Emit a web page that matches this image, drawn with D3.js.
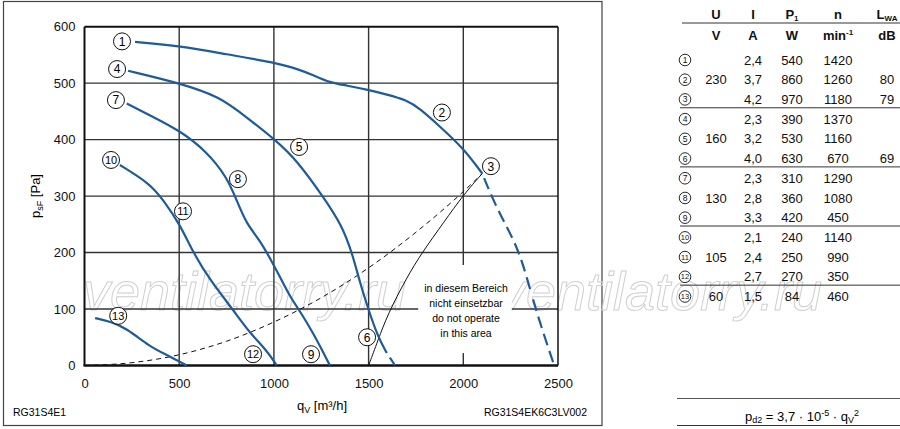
<!DOCTYPE html>
<html>
<head>
<meta charset="utf-8">
<script src="https://cdn.jsdelivr.net/npm/d3@7"></script>
<style>
  body { margin: 0; background: #fff; }
  svg { font-family: "Liberation Sans", Arial, sans-serif; }
</style>
</head>
<body>
<svg id="chart" width="900" height="429"></svg>
<script>

// curve data (qV in m3/h, psF in Pa)
const curve230 = [[267,573],[504,566],[750,551],[1000,537],[1137,524],[1208,514],[1296,501],[1384,496],
    [1498,488],[1595,480],[1701,470],[1771,455],[1877,423],[2000,385],[2100,340]];
const curve230Dash = [[2100,340],[2157,293],[2230,245],[2300,199],[2368,116],[2420,60],[2480,0]];
const curve160 = [[230,522],[504,500],[715,476],[850,441],[1006,400],[1120,364],[1260,299],[1360,248],
    [1415,197],[1455,146],[1500,98],[1548,52],[1596,22]];
const curve160Dash = [[1596,22],[1640,0]];
const curve130 = [[223,464],[346,443],[504,416],[645,379],[751,334],[803,293],[856,250],[927,222],
    [997,179],[1040,152],[1085,122],[1138,96],[1208,57],[1250,30],[1296,0]];
const curve105 = [[187,355],[346,322],[416,293],[504,250],[575,199],[663,151],[786,98],
    [874,57],[962,27],[1015,0]];
const curve60 = [[56,84],[135,78],[223,66],[346,33],[434,19],[540,0]];

// system curve (dashed) and limit line of the "do not operate" area
const systemCurve = [[0,0],[250,5],[500,19],[750,43],[1000,77],[1250,120],[1500,173],[1750,236],[2000,308],[2100,340]];
const limitLine = [[1500,0],[1550,45],[1600,90],[1700,155],[1780,199],[1900,255],[2000,302],[2100,340]];

// operating point markers
const pointNums = [1,2,3,4,5,6,7,8,9,10,11,12,13];
const pointQ = [198,1887,2146,172,1133,1492,166,810,1196,140,520,890,178];
const pointP = [574,448,353,525,387,50,470,330,20,364,273,20,88];

const xTicks = [0,500,1000,1500,2000,2500];
const yTicks = [0,100,200,300,400,500,600];

// table on the right
const headTop = ["U","I","P","n","L"];
const headUnit = ["V","A","W","min","dB"];
const colU = ["","230","","","160","","","130","","","105","","60"];
const colI = ["2,4","3,7","4,2","2,3","3,2","4,0","2,3","2,8","3,3","2,1","2,4","2,7","1,5"];
const colP = ["540","860","970","390","530","630","310","360","420","240","250","270","84"];
const colN = ["1420","1260","1180","1370","1160","670","1290","1080","450","1140","990","350","460"];
const colL = ["","80","79","","","69","","","","","","",""];
const groupEnds = [2,5,8,11];

const blue = "#1d5b99";
const svg = d3.select("#chart");

// outer frame of the diagram
svg.append("rect").attr("x", 3.5).attr("y", 1.5).attr("width", 598.5).attr("height", 424)
    .attr("fill", "none").attr("stroke", "#444").attr("stroke-width", 1.2);

let x = d3.scaleLinear().domain([0,2500]).range([84.5,558]);
let y = d3.scaleLinear().domain([0,600]).range([365.5,26.7]);

// watermark
["ventilatorry.ru","ventilatorry.ru"].forEach(function(t, i){
    svg.append("text").attr("x", i === 0 ? 83 : 499).attr("y", 310)
        .attr("font-size", 54).attr("font-style", "italic")
        .attr("fill", "none").attr("stroke", "#cfcfcf").attr("stroke-width", 1)
        .text(t);
});

// grid
let grid = svg.append("g");
[500,1000,1500,2000].forEach(function(v){
    grid.append("line").attr("x1", x(v)).attr("x2", x(v)).attr("y1", y(0)).attr("y2", y(600))
        .attr("stroke", "#333").attr("stroke-width", 1.4);
});
[100,200,300,400,500].forEach(function(v){
    grid.append("line").attr("x1", x(0)).attr("x2", x(2500)).attr("y1", y(v)).attr("y2", y(v))
        .attr("stroke", "#333").attr("stroke-width", 1.4);
});

// box for "do not operate" note
svg.append("rect").attr("x", x(1762)).attr("y", y(178))
    .attr("width", x(2256) - x(1762)).attr("height", y(22) - y(178)).attr("fill", "#fff");
let note = ["in diesem Bereich","nicht einsetzbar","do not operate","in this area"];
note.forEach(function(t, i){
    svg.append("text").attr("x", 466).attr("y", 292 + i*15)
        .attr("text-anchor", "middle").attr("font-size", 10.5).text(t);
});

// border and axes lines
svg.append("line").attr("x1", x(0)).attr("x2", x(2500)).attr("y1", y(600)).attr("y2", y(600))
    .attr("stroke", "#111").attr("stroke-width", 2);
svg.append("line").attr("x1", x(2500)).attr("x2", x(2500)).attr("y1", y(0)).attr("y2", y(600))
    .attr("stroke", "#111").attr("stroke-width", 1.5);
svg.append("line").attr("x1", x(0)).attr("x2", x(0)).attr("y1", y(0)).attr("y2", y(600))
    .attr("stroke", "#111").attr("stroke-width", 2);
svg.append("line").attr("x1", x(0) - 1).attr("x2", x(2500)).attr("y1", y(0)).attr("y2", y(0))
    .attr("stroke", "#111").attr("stroke-width", 2.6);

let line = d3.line().x(d => x(d[0])).y(d => y(d[1])).curve(d3.curveMonotoneX);
let lineB = d3.line().x(d => x(d[0])).y(d => y(d[1])).curve(d3.curveBasis);

svg.append("path").attr("d", line(systemCurve)).attr("fill", "none")
    .attr("stroke", "#111").attr("stroke-width", 1).attr("stroke-dasharray", "5,4");
svg.append("path").attr("d", lineB(limitLine)).attr("fill", "none")
    .attr("stroke", "#111").attr("stroke-width", 1);

[curve230, curve160, curve130, curve105, curve60].forEach(function(c){
    svg.append("path").attr("d", lineB(c)).attr("fill", "none")
        .attr("stroke", blue).attr("stroke-width", 2.2);
});
svg.append("path").attr("d", lineB(curve230Dash)).attr("fill", "none")
    .attr("stroke", blue).attr("stroke-width", 2.2).attr("stroke-dasharray", "0,5,12,6,12,6,12,6,12,6,12,6,12,6,12,6");
svg.append("path").attr("d", line(curve160Dash)).attr("fill", "none")
    .attr("stroke", blue).attr("stroke-width", 2.2).attr("stroke-dasharray", "0,5.5,14,20");

// axes labels
let xAxis = d3.axisBottom(x).tickValues(xTicks).tickSize(0).tickPadding(13.5).tickFormat(d3.format("d"));
let xAxisG = svg.append("g").attr("transform", "translate(0," + y(0) + ")").call(xAxis);
xAxisG.select(".domain").remove();
xAxisG.selectAll("text").attr("font-size", 13).attr("font-family", "Liberation Sans, Arial, sans-serif").attr("fill", "#111");

let yAxis = d3.axisLeft(y).tickValues(yTicks).tickSize(0).tickPadding(9);
let yAxisG = svg.append("g").attr("transform", "translate(" + x(0) + ",0)").call(yAxis);
yAxisG.select(".domain").remove();
yAxisG.selectAll("text").attr("font-size", 13).attr("font-family", "Liberation Sans, Arial, sans-serif").attr("fill", "#111");

let xTitle = svg.append("text").attr("x", 322).attr("y", 410).attr("text-anchor", "middle").attr("font-size", 13);
xTitle.append("tspan").text("q");
xTitle.append("tspan").attr("font-size", 9).attr("dy", 3).text("V");
xTitle.append("tspan").attr("dy", -3).text(" [m³/h]");

let yTitle = svg.append("text").attr("transform", "translate(40,196) rotate(-90)")
    .attr("text-anchor", "middle").attr("font-size", 13);
yTitle.append("tspan").text("p");
yTitle.append("tspan").attr("font-size", 9).attr("dy", 3).text("sF");
yTitle.append("tspan").attr("dy", -3).text(" [Pa]");

svg.append("text").attr("x", 13).attr("y", 416).attr("font-size", 10.5).text("RG31S4E1");
svg.append("text").attr("x", 587).attr("y", 416).attr("font-size", 10.5)
    .attr("text-anchor", "end").text("RG31S4EK6C3LV002");

// operating point markers
pointNums.forEach(function(n, i){
    let g = svg.append("g").attr("transform", "translate(" + x(pointQ[i]) + "," + y(pointP[i]) + ")");
    g.append("circle").attr("r", 8.5).attr("fill", "#fff").attr("stroke", "#111").attr("stroke-width", 1);
    g.append("text").attr("text-anchor", "middle").attr("dy", "0.36em")
        .attr("font-size", n > 9 ? 11 : 12).text(n);
});

// table
let colX = [716, 753, 792, 838, 887];
let rowY = d3.scaleLinear().domain([0,12]).range([60, 296.5]);
let tbl = svg.append("g").attr("font-size", 13).attr("fill", "#111");

headTop.forEach(function(h, i){
    let t = tbl.append("text").attr("x", colX[i]).attr("y", 18.5).attr("text-anchor", "middle")
        .attr("font-weight", "bold");
    t.append("tspan").text(h);
    if (h === "P") t.append("tspan").attr("font-size", 8).attr("dy", 2).text("1");
    if (h === "L") t.append("tspan").attr("font-size", 8).attr("dy", 2).text("WA");
});
headUnit.forEach(function(h, i){
    let t = tbl.append("text").attr("x", colX[i]).attr("y", 39.5).attr("text-anchor", "middle")
        .attr("font-weight", "bold");
    t.append("tspan").text(h);
    if (h === "min") t.append("tspan").attr("font-size", 8).attr("dy", -5).text("-1");
});
tbl.append("line").attr("x1", 682).attr("x2", 900).attr("y1", 23).attr("y2", 23)
    .attr("stroke", "#333").attr("stroke-width", 1);

groupEnds.forEach(function(r){
    tbl.append("line").attr("x1", 680).attr("x2", 900).attr("y1", rowY(r + 0.5) - 1.5).attr("y2", rowY(r + 0.5) - 1.5)
        .attr("stroke", "#333").attr("stroke-width", 1);
});

pointNums.forEach(function(n, i){
    let cy = rowY(i);
    tbl.append("circle").attr("cx", 685).attr("cy", cy).attr("r", 5.8)
        .attr("fill", "#fff").attr("stroke", "#111").attr("stroke-width", 0.9);
    tbl.append("text").attr("x", 685).attr("y", cy).attr("dy", "0.36em").attr("text-anchor", "middle")
        .attr("font-size", n > 9 ? 7.5 : 8.5).text(n);
    [colU[i], colI[i], colP[i], colN[i], colL[i]].forEach(function(v, j){
        if (v === "") return;
        tbl.append("text").attr("x", colX[j]).attr("y", cy + 4.6).attr("text-anchor", "middle").text(v);
    });
});

// formula box
svg.append("line").attr("x1", 677).attr("x2", 900).attr("y1", 398.5).attr("y2", 398.5)
    .attr("stroke", "#555").attr("stroke-width", 1.2);
svg.append("line").attr("x1", 677).attr("x2", 900).attr("y1", 425.5).attr("y2", 425.5)
    .attr("stroke", "#333").attr("stroke-width", 1.2);
let f = svg.append("text").attr("x", 802).attr("y", 420.5).attr("text-anchor", "middle").attr("font-size", 13);
f.append("tspan").text("p");
f.append("tspan").attr("font-size", 9).attr("dy", 2).text("d2");
f.append("tspan").attr("dy", -2).text(" = 3,7 · 10");
f.append("tspan").attr("font-size", 9).attr("dy", -5).text("-5");
f.append("tspan").attr("dy", 5).text(" · q");
f.append("tspan").attr("font-size", 9).attr("dy", 2).text("V");
f.append("tspan").attr("font-size", 9).attr("dy", -7).text("2");

</script>
</body>
</html>
